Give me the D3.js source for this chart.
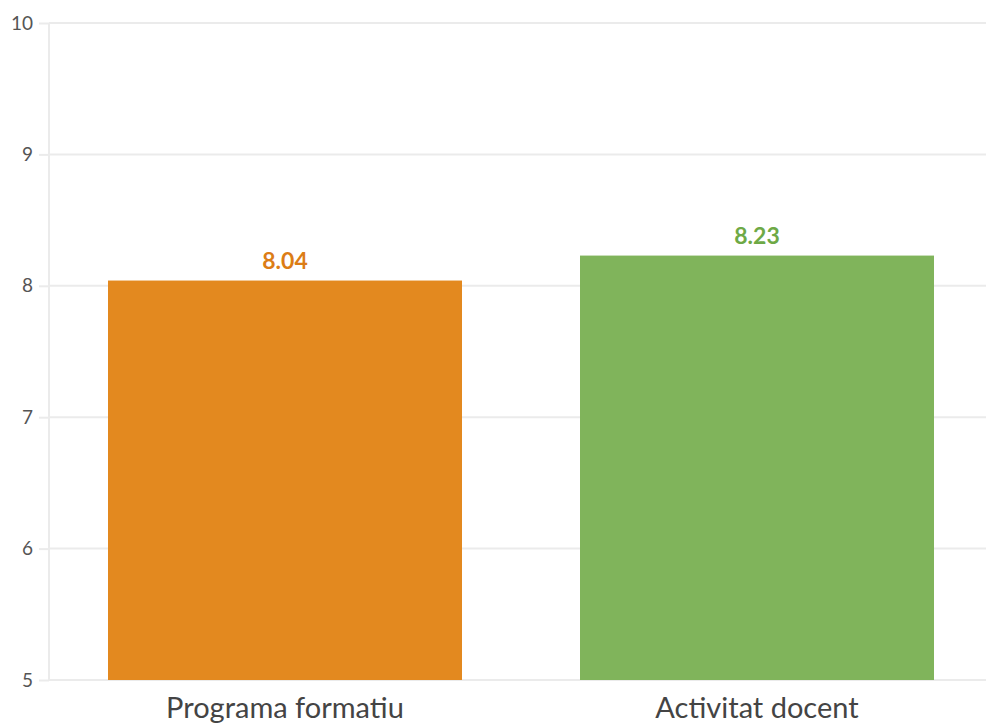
<!DOCTYPE html>
<html><head><meta charset="utf-8">
<script src="https://cdn.jsdelivr.net/npm/d3@7"></script>
<style>body{margin:0;background:#fff;}svg{display:block;}</style>
</head><body>
<script>
const categories = ["Programa formatiu", "Activitat docent"];
const values = [8.04, 8.23];
const barColors = ["#E3891F", "#80B45B"];
const labelColors = ["#DC7D16", "#6EA946"];
const yTicks = [5, 6, 7, 8, 9, 10];

const W = 986, H = 724;
const mLeft = 49, mTop = 23, mBottom = 680;
const svg = d3.select("body").append("svg").attr("width", W).attr("height", H);
const font = "Lato, 'Source Sans Pro', 'Open Sans', sans-serif";

const y = d3.scaleLinear().domain([5, 10]).range([mBottom, mTop]);
const x = d3.scaleBand().domain(categories).range([mLeft, 993]).paddingInner(0.25).paddingOuter(0.125);

// grid
svg.append("g").selectAll("line").data(yTicks).join("line")
  .attr("x1", mLeft).attr("x2", W).attr("y1", d => y(d)).attr("y2", d => y(d))
  .attr("stroke", "#ebebeb").attr("stroke-width", 2);
svg.append("line").attr("x1", mLeft).attr("x2", mLeft).attr("y1", mTop).attr("y2", mBottom)
  .attr("stroke", "#ebebeb").attr("stroke-width", 2);
const yAxis = svg.append("g").attr("transform", `translate(${mLeft},0)`)
  .call(d3.axisLeft(y).tickValues(yTicks).tickSize(10).tickPadding(6).tickFormat(d3.format("d")));
yAxis.select(".domain").remove();
yAxis.selectAll(".tick line").attr("stroke", "#ebebeb").attr("stroke-width", 2);
yAxis.selectAll(".tick text").attr("fill", "#555").style("font-family", font).style("font-size", "19px");

// bars
svg.append("g").selectAll("rect").data(values).join("rect")
  .attr("x", (d, i) => x(categories[i])).attr("width", x.bandwidth())
  .attr("y", d => y(d)).attr("height", d => mBottom - y(d))
  .attr("fill", (d, i) => barColors[i]);

// value labels
svg.append("g").selectAll("text").data(values).join("text")
  .attr("x", (d, i) => x(categories[i]) + x.bandwidth() / 2)
  .attr("y", d => y(d) - 12)
  .attr("text-anchor", "middle")
  .attr("fill", (d, i) => labelColors[i])
  .style("font-family", font).style("font-weight", "bold").style("font-size", "23px")
  .text(d => d3.format(".2f")(d));

// category labels
svg.append("g").selectAll("text").data(categories).join("text")
  .attr("x", d => x(d) + x.bandwidth() / 2)
  .attr("y", 718)
  .attr("text-anchor", "middle")
  .attr("fill", "#444")
  .style("font-family", font).style("font-size", "29px")
  .text(d => d);
</script>
</body></html>
